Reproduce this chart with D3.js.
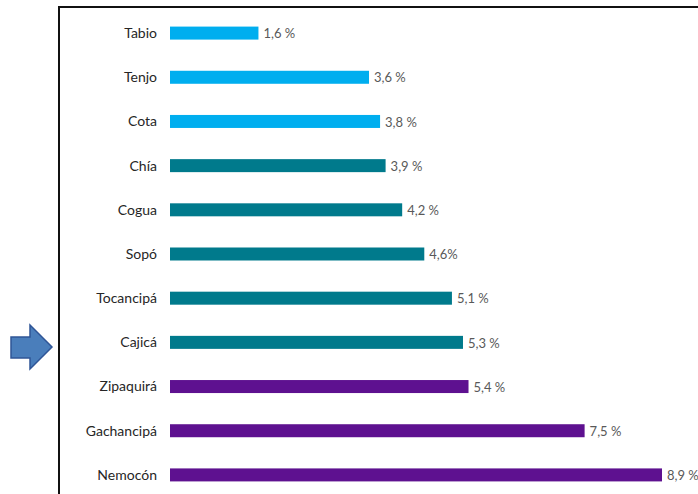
<!DOCTYPE html>
<html>
<head>
<meta charset="utf-8">
<script src="https://cdn.jsdelivr.net/npm/d3@7"></script>
<style>
  body { margin: 0; background: #fff; }
  svg { display: block; }
  .cat { font-family: Lato, sans-serif; font-size: 14px; fill: #262626; }
  .val { font-family: Lato, sans-serif; font-size: 13px; fill: #595959; }
</style>
</head>
<body>
<div id="chart"></div>
<script>
// municipalities, top to bottom
const municipios = ["Tabio", "Tenjo", "Cota", "Chía", "Cogua", "Sopó", "Tocancipá", "Cajicá", "Zipaquirá", "Gachancipá", "Nemocón"];
const valores = [1.6, 3.6, 3.8, 3.9, 4.2, 4.6, 5.1, 5.3, 5.4, 7.5, 8.9];
const etiquetas = ["1,6 %", "3,6 %", "3,8 %", "3,9 %", "4,2 %", "4,6%", "5,1 %", "5,3 %", "5,4 %", "7,5 %", "8,9 %"];
const grupos = ["a", "a", "a", "b", "b", "b", "b", "b", "c", "c", "c"];

const width = 698, height = 494;
const margin = {top: 11, left: 170, bottom: -3};
const barHeight = 13;

const color = d3.scaleOrdinal()
    .domain(["a", "b", "c"])
    .range(["#00AEEF", "#007A8C", "#5E1190"]);

let svg = d3.select("#chart").append("svg")
    .attr("width", width)
    .attr("height", height);

// frame
svg.append("path")
    .attr("d", "M59,494 V7 H698")
    .attr("fill", "none")
    .attr("stroke", "#111")
    .attr("stroke-width", 2);

// arrow pointing to Cajicá
svg.append("path")
    .attr("d", "M11,337 H30 V325 L52,347 L30,369 V358 H11 Z")
    .attr("fill", "#4A7EBB")
    .attr("stroke", "#2F5597")
    .attr("stroke-width", 1.5);

let x = d3.scaleLinear()
    .domain([0, 8.9])
    .range([margin.left, 662]);

let y = d3.scaleBand()
    .domain(municipios)
    .range([margin.top, height - margin.bottom])
    .paddingInner(0);

let rows = svg.selectAll("g.row")
    .data(municipios)
    .enter().append("g")
    .attr("class", "row")
    .attr("transform", (d) => "translate(0," + (y(d) + y.bandwidth() / 2) + ")");

rows.append("rect")
    .attr("x", x(0))
    .attr("y", -barHeight / 2)
    .attr("height", barHeight)
    .attr("width", (d, i) => x(valores[i]) - x(0))
    .attr("fill", (d, i) => color(grupos[i]));

rows.append("text")
    .attr("class", "cat")
    .attr("x", 157)
    .attr("dy", "0.35em")
    .attr("text-anchor", "end")
    .text((d) => d);

rows.append("text")
    .attr("class", "val")
    .attr("x", (d, i) => x(valores[i]) + 5)
    .attr("dy", "0.4em")
    .text((d, i) => etiquetas[i]);
</script>
</body>
</html>
